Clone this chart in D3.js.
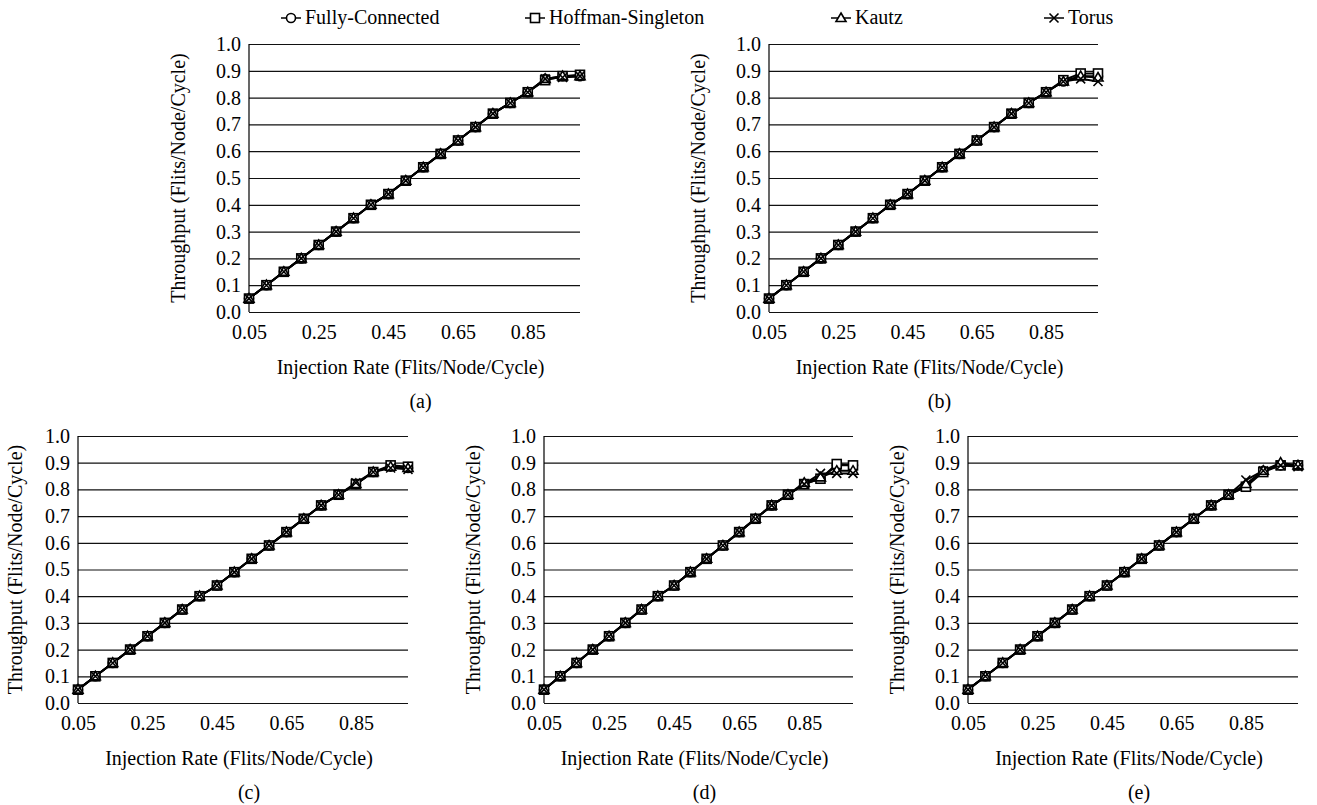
<!DOCTYPE html>
<html>
<head>
<meta charset="utf-8">
<script src="https://cdn.jsdelivr.net/npm/d3@7"></script>
<style>
  body { margin: 0; background: #fff; }
  svg { display: block; }
  svg text { font-family: "Liberation Serif", "Times New Roman", Times, "DejaVu Serif", serif; }
</style>
</head>
<body>
<svg id="chart" width="1317" height="805"></svg>
<script>
// Categories on the x axis (injection rate).
const injectionRates = [0.05, 0.10, 0.15, 0.20, 0.25, 0.30, 0.35, 0.40, 0.45, 0.50,
                        0.55, 0.60, 0.65, 0.70, 0.75, 0.80, 0.85, 0.90, 0.95, 1.00];
const xTickLabels = ["0.05", "0.25", "0.45", "0.65", "0.85"];
const yTicks = [0.0, 0.1, 0.2, 0.3, 0.4, 0.5, 0.6, 0.7, 0.8, 0.9, 1.0];
const seriesNames = ["Fully-Connected", "Hoffman-Singleton", "Kautz", "Torus"];
const panelLabels = ["(a)", "(b)", "(c)", "(d)", "(e)"];

// Linear part shared by all curves.
const ramp = [0.05, 0.10, 0.15, 0.20, 0.25, 0.30, 0.35, 0.40, 0.44, 0.49,
              0.54, 0.59, 0.64, 0.69, 0.74, 0.78];

// Panel (a)
const aFully = [...ramp, 0.82, 0.87, 0.88, 0.88];
const aHoffman = [...ramp, 0.82, 0.865, 0.88, 0.885];
const aKautz = [...ramp, 0.82, 0.87, 0.88, 0.88];
const aTorus = [...ramp, 0.82, 0.87, 0.875, 0.88];
// Panel (b)
const bFully = [...ramp, 0.82, 0.86, 0.88, 0.88];
const bHoffman = [...ramp, 0.82, 0.865, 0.89, 0.89];
const bKautz = [...ramp, 0.82, 0.86, 0.88, 0.875];
const bTorus = [...ramp, 0.82, 0.86, 0.87, 0.86];
// Panel (c)
const cFully = [...ramp, 0.82, 0.865, 0.885, 0.88];
const cHoffman = [...ramp, 0.82, 0.865, 0.89, 0.885];
const cKautz = [...ramp, 0.82, 0.865, 0.885, 0.88];
const cTorus = [...ramp, 0.825, 0.865, 0.88, 0.875];
// Panel (d)
const dFully = [...ramp, 0.82, 0.84, 0.89, 0.89];
const dHoffman = [...ramp, 0.82, 0.84, 0.895, 0.89];
const dKautz = [...ramp, 0.825, 0.845, 0.87, 0.87];
const dTorus = [...ramp, 0.82, 0.86, 0.86, 0.86];
// Panel (e)
const eFully = [...ramp, 0.81, 0.87, 0.89, 0.89];
const eHoffman = [...ramp, 0.81, 0.865, 0.89, 0.89];
const eKautz = [...ramp, 0.82, 0.87, 0.90, 0.89];
const eTorus = [...ramp, 0.835, 0.87, 0.89, 0.885];

const panelSeries = [
  [aFully, aHoffman, aKautz, aTorus],
  [bFully, bHoffman, bKautz, bTorus],
  [cFully, cHoffman, cKautz, cTorus],
  [dFully, dHoffman, dKautz, dTorus],
  [eFully, eHoffman, eKautz, eTorus],
];

// Plot area of each panel, plus offset of the rotated y title.
const panelBoxes = [
  { left: 249, right: 580, top: 44, bottom: 312, titleDx: 64 },
  { left: 769, right: 1098, top: 44, bottom: 312, titleDx: 64 },
  { left: 78, right: 408, top: 436, bottom: 703, titleDx: 56 },
  { left: 544, right: 853, top: 436, bottom: 703, titleDx: 64 },
  { left: 968, right: 1298, top: 436, bottom: 703, titleDx: 64 },
];

const svg = d3.select("#chart");
const fontSize = 20;

// Marker drawing: circle, square, triangle, cross.
function drawMarker(g, kind, cx, cy) {
  const s = 4.5;
  const sw = 1.6;
  if (kind === 0) {
    g.append("circle").attr("cx", cx).attr("cy", cy).attr("r", s)
      .attr("fill", "#fff").attr("stroke", "#000").attr("stroke-width", sw);
  } else if (kind === 1) {
    g.append("rect").attr("x", cx - s).attr("y", cy - s).attr("width", 2 * s).attr("height", 2 * s)
      .attr("fill", "#fff").attr("stroke", "#000").attr("stroke-width", sw);
  } else if (kind === 2) {
    g.append("path")
      .attr("d", `M${cx},${cy - s - 0.5}L${cx + s + 0.5},${cy + s - 1}L${cx - s - 0.5},${cy + s - 1}Z`)
      .attr("fill", "#fff").attr("stroke", "#000").attr("stroke-width", sw);
  } else {
    g.append("path")
      .attr("d", `M${cx - s},${cy - s}L${cx + s},${cy + s}M${cx - s},${cy + s}L${cx + s},${cy - s}`)
      .attr("fill", "none").attr("stroke", "#000").attr("stroke-width", sw);
  }
}

panelBoxes.forEach((box, p) => {
  const g = svg.append("g");
  const x = d3.scalePoint().domain(d3.range(injectionRates.length)).range([box.left, box.right]);
  const y = d3.scaleLinear().domain([0, 1]).range([box.bottom, box.top]);
  const w = box.right - box.left;

  // Gridlines and y tick labels.
  const yAxis = g.append("g")
    .attr("transform", `translate(${box.left},0)`)
    .call(d3.axisLeft(y).tickValues(yTicks).tickSize(-w).tickPadding(8).tickFormat(d3.format(".1f")));
  yAxis.attr("font-family", null).attr("font-size", null);
  yAxis.select(".domain").remove();
  yAxis.selectAll(".tick line").attr("stroke", "#111").attr("stroke-width", 1.2);
  yAxis.selectAll(".tick text").attr("font-size", fontSize).attr("fill", "#000");

  // Left axis line.
  g.append("line")
    .attr("x1", box.left).attr("x2", box.left).attr("y1", box.top).attr("y2", box.bottom)
    .attr("stroke", "#000").attr("stroke-width", 1.2);

  // X tick labels every 4th category.
  const xAxis = g.append("g")
    .attr("transform", `translate(0,${box.bottom})`)
    .call(d3.axisBottom(x).tickValues([0, 4, 8, 12, 16]).tickSize(0).tickPadding(13)
      .tickFormat((d, i) => xTickLabels[i]));
  xAxis.attr("font-family", null).attr("font-size", null);
  xAxis.select(".domain").remove();
  xAxis.selectAll(".tick text").attr("font-size", fontSize).attr("fill", "#000");

  // Axis titles and panel label.
  const cx = (box.left + box.right) / 2;
  g.append("text")
    .attr("x", cx - 4).attr("y", box.bottom + 62)
    .attr("text-anchor", "middle").attr("font-size", fontSize)
    .text("Injection Rate (Flits/Node/Cycle)");
  g.append("text")
    .attr("x", cx + 6).attr("y", box.bottom + 96)
    .attr("text-anchor", "middle").attr("font-size", fontSize)
    .text(panelLabels[p]);
  g.append("text")
    .attr("transform", `translate(${box.left - box.titleDx},${(box.top + box.bottom) / 2}) rotate(-90)`)
    .attr("text-anchor", "middle").attr("font-size", fontSize)
    .text("Throughput (Flits/Node/Cycle)");

  // Series lines and markers.
  const line = d3.line().x((d, i) => x(i)).y((d) => y(d));
  panelSeries[p].forEach((vals) => {
    g.append("path").datum(vals)
      .attr("d", line).attr("fill", "none").attr("stroke", "#000").attr("stroke-width", 2);
  });
  panelSeries[p].forEach((vals, s) => {
    vals.forEach((v, i) => drawMarker(g, s, x(i), y(v)));
  });
});

// Legend.
const legendX = [291, 535, 841, 1054];
const legend = svg.append("g");
seriesNames.forEach((name, s) => {
  const lx = legendX[s];
  const ly = 18;
  legend.append("line")
    .attr("x1", lx - 10).attr("x2", lx + 10).attr("y1", ly).attr("y2", ly)
    .attr("stroke", "#000").attr("stroke-width", 1.5);
  drawMarker(legend, s, lx, ly);
  legend.append("text")
    .attr("x", lx + 14).attr("y", ly + 6)
    .attr("font-size", fontSize)
    .text(name);
});
</script>
</body>
</html>
